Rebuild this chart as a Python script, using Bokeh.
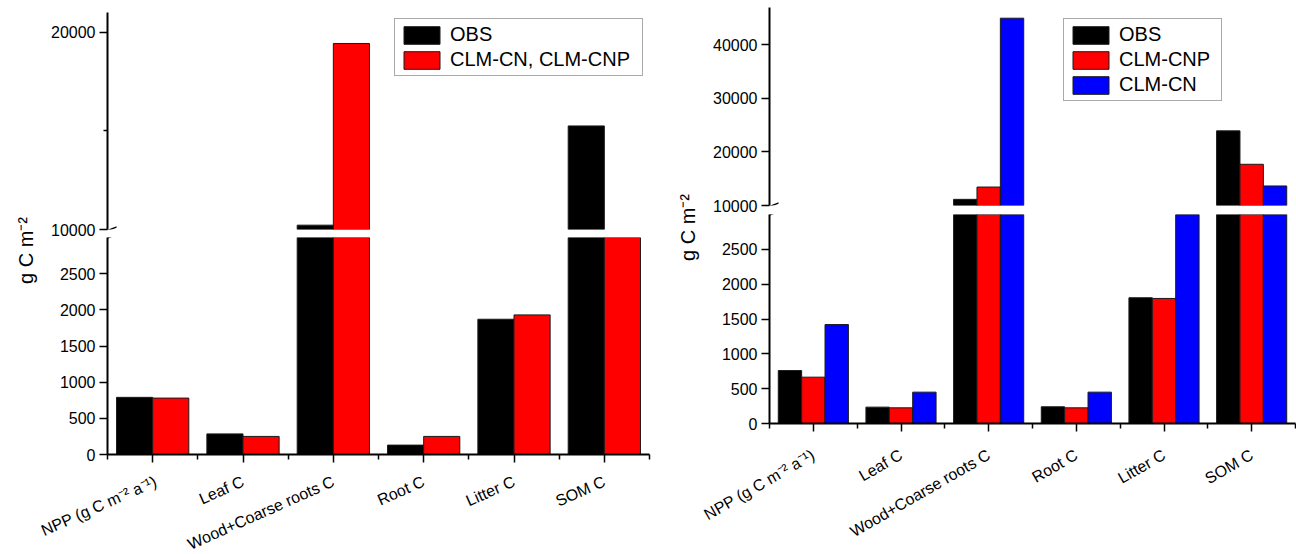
import numpy as np
from bokeh.plotting import figure
from bokeh.layouts import row, column
from bokeh.models import (ColumnDataSource, Range1d, LinearAxis, FixedTicker,
                          Legend, LegendItem, Label, PolyAnnotation,
                          CDSView, BooleanFilter)
from bokeh.embed import file_html
from bokeh.resources import INLINE

# Carbon fluxes and pools on the x axis
categories = ["NPP (g C m\u207b\u00b2 a\u207b\u00b9)", "Leaf C", "Wood+Coarse roots C",
              "Root C", "Litter C", "SOM C"]

# Left panel: observations and the shared CLM-CN / CLM-CNP result
obs_a = [790, 285, 10220, 130, 1870, 15250]
clm_a = [780, 250, 19430, 250, 1930, 8000]
names_a = ["OBS", "CLM-CN, CLM-CNP"]

# Right panel: observations, CLM-CNP and CLM-CN
obs_b = [760, 235, 11150, 240, 1805, 23950]
cnp_b = [665, 225, 13450, 225, 1795, 17700]
cn_b = [1420, 450, 45000, 450, 6000, 13650]
names_b = ["OBS", "CLM-CNP", "CLM-CN"]

# Axis ticks for the two segments of each broken y axis
lower_ticks = [0, 500, 1000, 1500, 2000, 2500]
upper_ticks_a = [10000, 20000]
upper_minor_a = [15000]
upper_ticks_b = [10000, 20000, 30000, 40000]

y_title = "g C m\u207b\u00b2"

FONT = "Liberation Sans"
COLORS = ["#000000", "#ff0000", "#0000ff"]
PAGE_H = 554


def blank_fig(**kw):
    p = figure(output_backend="svg", toolbar_location=None, title=None,
               x_axis_location=None, y_axis_location=None, **kw)
    p.outline_line_color = None
    p.grid.visible = False
    p.background_fill_color = "white"
    p.border_fill_color = "white"
    return p


def y_axis(ticks, minor):
    return LinearAxis(
        ticker=FixedTicker(ticks=ticks, minor_ticks=minor),
        axis_line_width=2, axis_line_color="black",
        major_tick_in=0, major_tick_out=8, major_tick_line_width=1.5,
        major_tick_line_color="black",
        minor_tick_in=0, minor_tick_out=4, minor_tick_line_width=1.5,
        minor_tick_line_color="black",
        major_label_standoff=4, major_label_text_font=FONT,
        major_label_text_font_size="16px", major_label_text_color="black")


def x_axis(n, angle_deg, standoff):
    ticks = list(range(1, n + 1))
    minors = [i + 0.5 for i in range(n + 1)]
    return LinearAxis(
        ticker=FixedTicker(ticks=ticks, minor_ticks=minors),
        major_label_overrides={t: c for t, c in zip(ticks, categories)},
        major_label_orientation=np.radians(angle_deg),
        axis_line_width=2, axis_line_color="black",
        major_tick_in=0, major_tick_out=8, major_tick_line_width=1.5,
        major_tick_line_color="black",
        minor_tick_in=0, minor_tick_out=5, minor_tick_line_width=1.5,
        minor_tick_line_color="black",
        major_label_standoff=standoff, major_label_text_font=FONT,
        major_label_text_font_size="16px", major_label_text_color="black")


def title_fig(width, cx, cy):
    p = blank_fig(width=width, height=PAGE_H, x_range=Range1d(0, width),
                  y_range=Range1d(0, PAGE_H), min_border=0)
    p.add_layout(Label(x=cx, y=PAGE_H - cy, text=y_title, angle=np.pi / 2,
                       text_align="center", text_baseline="middle",
                       text_font=FONT, text_font_size="20px", text_color="black"))
    return p


def slash(p, frame_w, frame_h, y_ref, offset_px):
    # short diagonal stroke across the y axis, offset_px below y_ref (screen px)
    xr, yr = p.x_range, p.y_range
    ux = (xr.end - xr.start) / frame_w
    uy = (yr.end - yr.start) / frame_h
    x0 = xr.start
    y0 = y_ref - offset_px * uy
    half_w, rise, thick = 9, 3.5, 0.8
    xs = [x0 - half_w * ux, x0 + half_w * ux, x0 + half_w * ux, x0 - half_w * ux]
    ys = [y0 - (rise + thick) * uy, y0 + (rise - thick) * uy,
          y0 + (rise + thick) * uy, y0 - (rise - thick) * uy]
    p.add_layout(PolyAnnotation(xs=xs, ys=ys, fill_color="black", fill_alpha=1,
                                line_color=None))


def make_panel(series, names, upper_range, upper_ticks, upper_minor,
               frame_w, left, right, upper_top, up_frame_h, gap,
               lo_frame_h, lower_bottom, legend_xy, label_w,
               label_angle, label_standoff):
    n = len(categories)
    k = len(series)
    bw = 0.8 / k
    xr = Range1d(0.5, n + 0.5)

    upper = blank_fig(frame_width=frame_w, frame_height=up_frame_h,
                      x_range=xr, y_range=Range1d(*upper_range),
                      min_border_left=left, min_border_right=right,
                      min_border_top=upper_top, min_border_bottom=gap)
    lower = blank_fig(frame_width=frame_w, frame_height=lo_frame_h,
                      x_range=xr, y_range=Range1d(0, 3000),
                      min_border_left=left, min_border_right=right,
                      min_border_top=0, min_border_bottom=lower_bottom)
    upper.add_layout(y_axis(upper_ticks, upper_minor), "left")
    lower.add_layout(y_axis(lower_ticks, []), "left")
    lower.add_layout(x_axis(n, label_angle, label_standoff), "below")

    idx = np.arange(1, n + 1)
    items = []
    for j, (vals, name) in enumerate(zip(series, names)):
        src = ColumnDataSource(dict(x=idx + (j - (k - 1) / 2) * bw, top=vals))
        style = dict(x="x", top="top", bottom=0, width=bw, source=src,
                     fill_color=COLORS[j], line_color="#1a1a1a", line_width=1)
        above = CDSView(filter=BooleanFilter([v > upper_range[0] for v in vals]))
        r = upper.vbar(view=above, **style)
        lower.vbar(**style)
        items.append(LegendItem(label=name, renderers=[r]))

    legend = Legend(items=items, location=legend_xy, glyph_width=45,
                    glyph_height=22, label_height=22, label_width=label_w,
                    label_standoff=6, spacing=2, padding=4, margin=0,
                    label_text_font=FONT, label_text_font_size="20px",
                    label_text_color="black",
                    border_line_color="#555555", border_line_width=1,
                    background_fill_color="white", background_fill_alpha=1)
    upper.add_layout(legend)

    # each stroke is added to both figures so it crosses the seam between them
    u_start = upper.y_range.start
    l_end = lower.y_range.end
    for off in (1, gap + 0.5):
        slash(upper, frame_w, up_frame_h, u_start, off)
        slash(lower, frame_w, lo_frame_h, l_end, off - gap)
    return column(upper, lower)


panel_a = make_panel([obs_a, clm_a], names_a, (10000, 21000), upper_ticks_a,
                     upper_minor_a, frame_w=542, left=69, right=11,
                     upper_top=12, up_frame_h=217, gap=8,
                     lo_frame_h=217, lower_bottom=100, legend_xy=(287, 153),
                     label_w=188, label_angle=24, label_standoff=18)
panel_b = make_panel([obs_b, cnp_b, cn_b], names_b, (10000, 47000),
                     upper_ticks_b, [], frame_w=526, left=69, right=1,
                     upper_top=7, up_frame_h=198, gap=9,
                     lo_frame_h=209, lower_bottom=131, legend_xy=(294, 104),
                     label_w=98, label_angle=30, label_standoff=22)

layout = row(title_fig(38, 25, 250), panel_a, title_fig(40, 27, 227), panel_b)

with open("out.html", "w") as f:
    f.write(file_html(layout, INLINE))
